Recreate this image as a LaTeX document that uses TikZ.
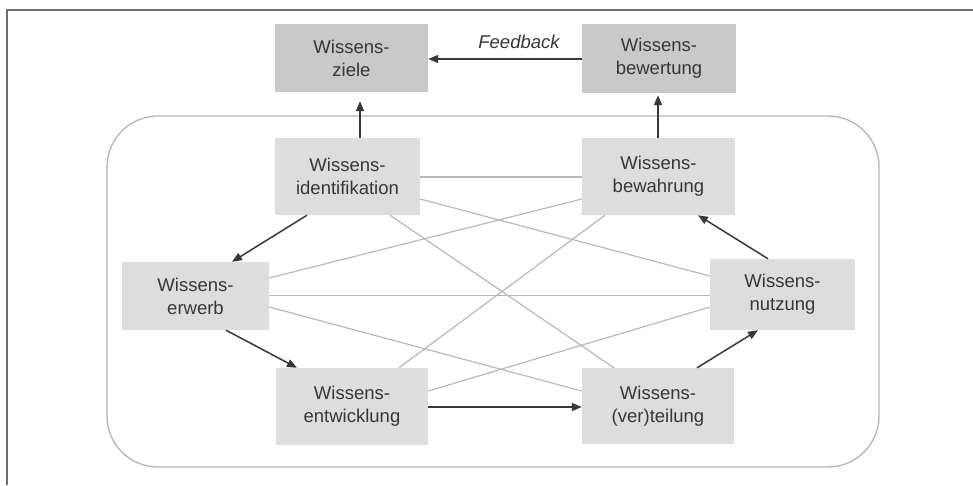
\documentclass[tikz,border=0pt]{standalone}
\usepackage{fontspec}
\setmainfont{Liberation Sans}
\usetikzlibrary{arrows.meta}
\definecolor{txt}{HTML}{363636}
\definecolor{boxinner}{HTML}{DDDDDD}
\definecolor{boxouter}{HTML}{C9C9C9}
\definecolor{link}{HTML}{B8B8B8}
\definecolor{arrowc}{HTML}{383838}
\definecolor{framec}{HTML}{6E6E6E}
\definecolor{roundc}{HTML}{B4B4B4}
\tikzset{
  wbox/.style={draw=none, fill=boxinner, text=txt, align=center,
    font=\fontsize{18.5}{23}\selectfont, inner sep=0pt},
  topbox/.style={wbox, fill=boxouter},
  linkline/.style={draw=link, line width=1.2pt},
  arr/.style={draw=arrowc, line width=1.5pt,
    -{Triangle[length=10pt,width=8pt]}},
}
\begin{document}
\begin{tikzpicture}[x=1pt,y=-1pt]
\useasboundingbox (0,0) rectangle (973,485);
% page frame
\draw[framec, line width=2pt] (7,485) -- (7,9.5) -- (973,9.5);
% process area
\draw[roundc, line width=1.3pt, rounded corners=51pt] (107,116) rectangle (879,467);

% nodes
\node[topbox, minimum width=153pt, minimum height=68pt] (ziele) at (351.5,58) {Wissens-\\ziele};
\node[topbox, minimum width=154pt, minimum height=69pt] (bewertung) at (659,58.5) {Wissens-\\bewertung};
\node[wbox, minimum width=145pt, minimum height=77pt] (ident) at (347.5,176.5) {Wissens-\\identifikation};
\node[wbox, minimum width=153pt, minimum height=77pt] (bewahrung) at (658.5,176.5) {Wissens-\\bewahrung};
\node[wbox, minimum width=147pt, minimum height=68pt] (erwerb) at (195.5,296) {Wissens-\\erwerb};
\node[wbox, minimum width=145pt, minimum height=71pt] (nutzung) at (782.5,294.5) {Wissens-\\nutzung};
\node[wbox, minimum width=152pt, minimum height=77pt] (entw) at (352,406.5) {Wissens-\\entwicklung};
\node[wbox, minimum width=152pt, minimum height=76pt] (vert) at (658,406) {Wissens-\\(ver)teilung};

\node[text=txt, font=\fontsize{18.5}{20}\itshape\selectfont] (fb) at (519,42) {Feedback};

% cross links
\coordinate (xa) at (0,177);
\coordinate (xb) at (0,199);
\coordinate (xc) at (0,278);
\coordinate (xd) at (0,295.5);
\coordinate (xe) at (0,307);
\coordinate (xf) at (0,391);
\coordinate (xg) at (390,0);
\coordinate (xh) at (614,0);
\coordinate (xi) at (399,0);
\coordinate (xj) at (605,0);
\coordinate (xk) at (0,276);
\draw[linkline] (ident.east |- xa) -- (bewahrung.west |- xa);
\draw[linkline] (ident.east |- xb) -- (nutzung.west |- xk);
\draw[linkline] (ident.south -| xg) -- (vert.north -| xh);
\draw[linkline] (erwerb.east |- xc) -- (bewahrung.west |- xb);
\draw[linkline] (erwerb.east |- xd) -- (nutzung.west |- xd);
\draw[linkline] (erwerb.east |- xe) -- (vert.west |- xf);
\draw[linkline] (entw.north -| xi) -- (bewahrung.south -| xj);
\draw[linkline] (entw.east |- xf) -- (nutzung.west |- xe);

% process arrows
\coordinate (a1) at (360,0);
\coordinate (a2) at (658,0);
\coordinate (b1) at (307,0);
\coordinate (b2) at (232,0);
\coordinate (c1) at (226,0);
\coordinate (c2) at (297,0);
\coordinate (d1) at (697,0);
\coordinate (d2) at (758,0);
\coordinate (e1) at (768,0);
\coordinate (e2) at (698,0);
\coordinate (fy) at (0,59);
\coordinate (gy) at (0,407);
\draw[arr] (bewertung.west |- fy) -- (ziele.east |- fy);
\draw[arr, shorten >=9pt] (ident.north -| a1) -- (ziele.south -| a1);
\draw[arr, shorten >=2pt] (bewahrung.north -| a2) -- (bewertung.south -| a2);
\draw[arr] (ident.south -| b1) -- (erwerb.north -| b2);
\draw[arr] (erwerb.south -| c1) -- (entw.north -| c2);
\draw[arr] (entw.east |- gy) -- (vert.west |- gy);
\draw[arr] (vert.north -| d1) -- (nutzung.south -| d2);
\draw[arr] (nutzung.north -| e1) -- (bewahrung.south -| e2);
\end{tikzpicture}
\end{document}
